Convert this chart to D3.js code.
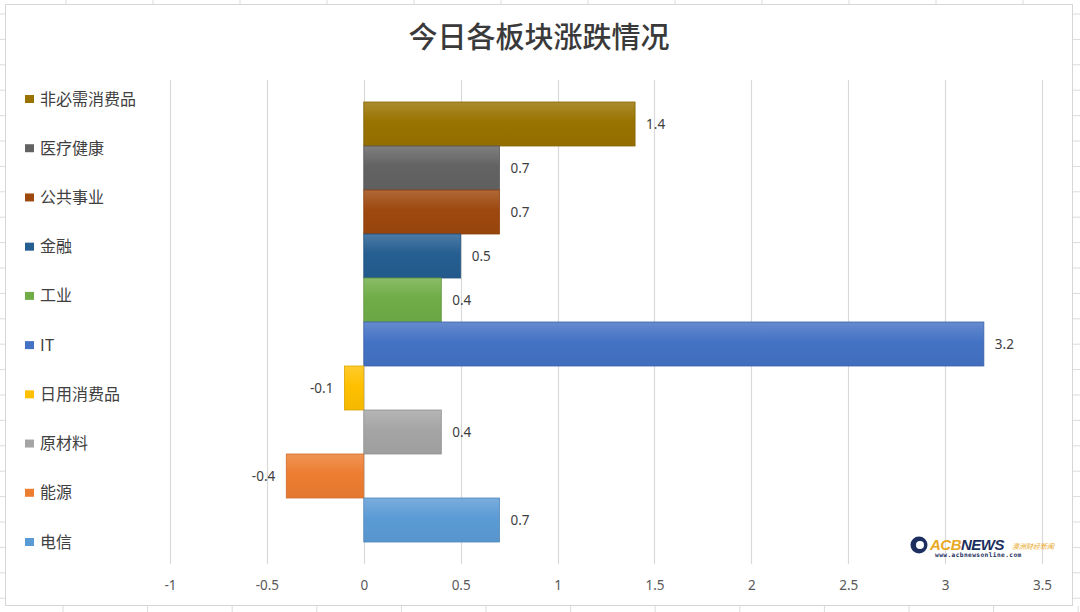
<!DOCTYPE html>
<html><head><meta charset="utf-8">
<script src="https://cdn.jsdelivr.net/npm/d3@7"></script>
<style>
html,body{margin:0;padding:0;background:#fff;}
svg{display:block;}
</style></head>
<body>
<svg id="chart" width="1080" height="612"></svg>
<script>
const title = "今日各板块涨跌情况";
const categories = ["非必需消费品","医疗健康","公共事业","金融","工业","IT","日用消费品","原材料","能源","电信"];
const values = [1.4, 0.7, 0.7, 0.5, 0.4, 3.2, -0.1, 0.4, -0.4, 0.7];
const tickValues = [-1, -0.5, 0, 0.5, 1, 1.5, 2, 2.5, 3, 3.5];
const palette = ["#997300","#636363","#9E480E","#255E91","#70AD47","#4472C4","#FFC000","#A5A5A5","#ED7D31","#5B9BD5"];

const svg = d3.select("#chart");
const W = 1080, H = 612;
const cjk = "'Noto Sans CJK SC','Noto Sans',sans-serif";

// spreadsheet background grid (outside the chart box)
const bg = svg.append("g");
bg.append("rect").attr("width", W).attr("height", H).attr("fill", "#fff");
d3.range(66, W, 87).forEach(x => bg.append("line").attr("x1", x).attr("x2", x).attr("y1", 0).attr("y2", 5).attr("stroke", "#dcdcdc"));
d3.range(63, W, 84.6).forEach(x => bg.append("line").attr("x1", x).attr("x2", x).attr("y1", 606).attr("y2", 612).attr("stroke", "#dcdcdc"));
d3.range(14, H, 25.4).forEach(y => {
  bg.append("line").attr("x1", 0).attr("x2", 5).attr("y1", y).attr("y2", y).attr("stroke", "#dcdcdc");
  bg.append("line").attr("x1", 1073).attr("x2", W).attr("y1", y).attr("y2", y).attr("stroke", "#dcdcdc");
});

// chart box
svg.append("rect").attr("x", 5.5).attr("y", 4.5).attr("width", 1067).attr("height", 601)
  .attr("fill", "#fff").attr("stroke", "#d6d6d6");

// title
svg.append("text").attr("x", 539).attr("y", 48).attr("text-anchor", "middle")
  .attr("font-family", cjk).attr("font-size", 29).attr("font-weight", 500).attr("fill", "#3a3a3a").text(title);

const x = d3.scaleLinear().domain([-1, 3.5]).range([170, 1042]);
const y = d3.scaleBand().domain(categories).range([102, 542]).padding(0);

// gridlines
svg.append("g").selectAll("line").data(tickValues).join("line")
  .attr("x1", d => Math.round(x(d)) + 0.5).attr("x2", d => Math.round(x(d)) + 0.5)
  .attr("y1", 80).attr("y2", 564).attr("stroke", "#d9d9d9").attr("stroke-width", 1.2);

// axis labels
const axis = svg.append("g").attr("transform", "translate(0,577)")
  .call(d3.axisBottom(x).tickValues(tickValues).tickSize(0).tickFormat(d => String(d)));
axis.select(".domain").remove();
axis.selectAll("text").attr("font-family", "'Noto Sans',sans-serif").attr("font-size", 13.5).attr("fill", "#595959");

// gradients
const defs = svg.append("defs");
palette.forEach((c, i) => {
  const g = defs.append("linearGradient").attr("id", "g" + i).attr("x1", 0).attr("y1", 0).attr("x2", 0).attr("y2", 1);
  g.append("stop").attr("offset", "0%").attr("stop-color", d3.interpolateRgb(c, "#fff")(0.18));
  g.append("stop").attr("offset", "45%").attr("stop-color", c);
  g.append("stop").attr("offset", "100%").attr("stop-color", d3.color(c).darker(0.12));
});

// bars
svg.append("g").selectAll("rect").data(categories).join("rect")
  .attr("x", (d, i) => x(Math.min(0, values[i])))
  .attr("y", d => y(d))
  .attr("width", (d, i) => Math.abs(x(values[i]) - x(0)))
  .attr("height", y.bandwidth())
  .attr("fill", (d, i) => `url(#g${i})`)
  .attr("stroke", (d, i) => d3.color(palette[i]).darker(0.4))
  .attr("stroke-width", 0.8);

// value labels
svg.append("g").selectAll("text").data(categories).join("text")
  .attr("x", (d, i) => values[i] >= 0 ? x(values[i]) + 11 : x(values[i]) - 11)
  .attr("y", d => y(d) + y.bandwidth() / 2 + 5)
  .attr("text-anchor", (d, i) => values[i] >= 0 ? "start" : "end")
  .attr("font-family", "'Noto Sans',sans-serif").attr("font-size", 13.5).attr("fill", "#404040")
  .text((d, i) => String(values[i]));

// legend
const ly = d3.scalePoint().domain(categories).range([99, 542]);
const leg = svg.append("g").selectAll("g").data(categories).join("g")
  .attr("transform", d => `translate(25,${ly(d)})`);
leg.append("rect").attr("x", 0).attr("y", -4).attr("width", 9).attr("height", 8)
  .attr("fill", (d, i) => palette[i]);
leg.append("text").attr("x", 15).attr("y", 5.5).attr("font-family", cjk).attr("font-size", 16)
  .attr("fill", "#404040").text(d => d);

// watermark logo
const wm = svg.append("g");
wm.append("circle").attr("cx", 919).attr("cy", 545).attr("r", 8.5).attr("fill", "#1c2f5e");
wm.append("circle").attr("cx", 920).attr("cy", 545).attr("r", 4).attr("fill", "#fff");
wm.append("text").attr("x", 930).attr("y", 550).attr("font-family", "'Liberation Sans',sans-serif")
  .attr("font-weight", "bold").attr("font-style", "italic").attr("font-size", 15).attr("letter-spacing", -0.5)
  .call(t => {
    t.append("tspan").attr("fill", "#e9a825").text("ACB");
    t.append("tspan").attr("fill", "#1c2f5e").text("NEWS");
  });
wm.append("text").attr("x", 1012).attr("y", 549).attr("font-family", cjk).attr("font-style", "italic")
  .attr("font-size", 7).attr("fill", "#e9a825").text("澳洲财经新闻");
wm.append("text").attr("x", 935).attr("y", 557).attr("font-family", "'DejaVu Sans Mono',monospace")
  .attr("font-weight", "bold").attr("font-size", 6.2).attr("letter-spacing", 0.4).attr("fill", "#1c2f5e")
  .text("www.acbnewsonline.com");
</script>
</body></html>
